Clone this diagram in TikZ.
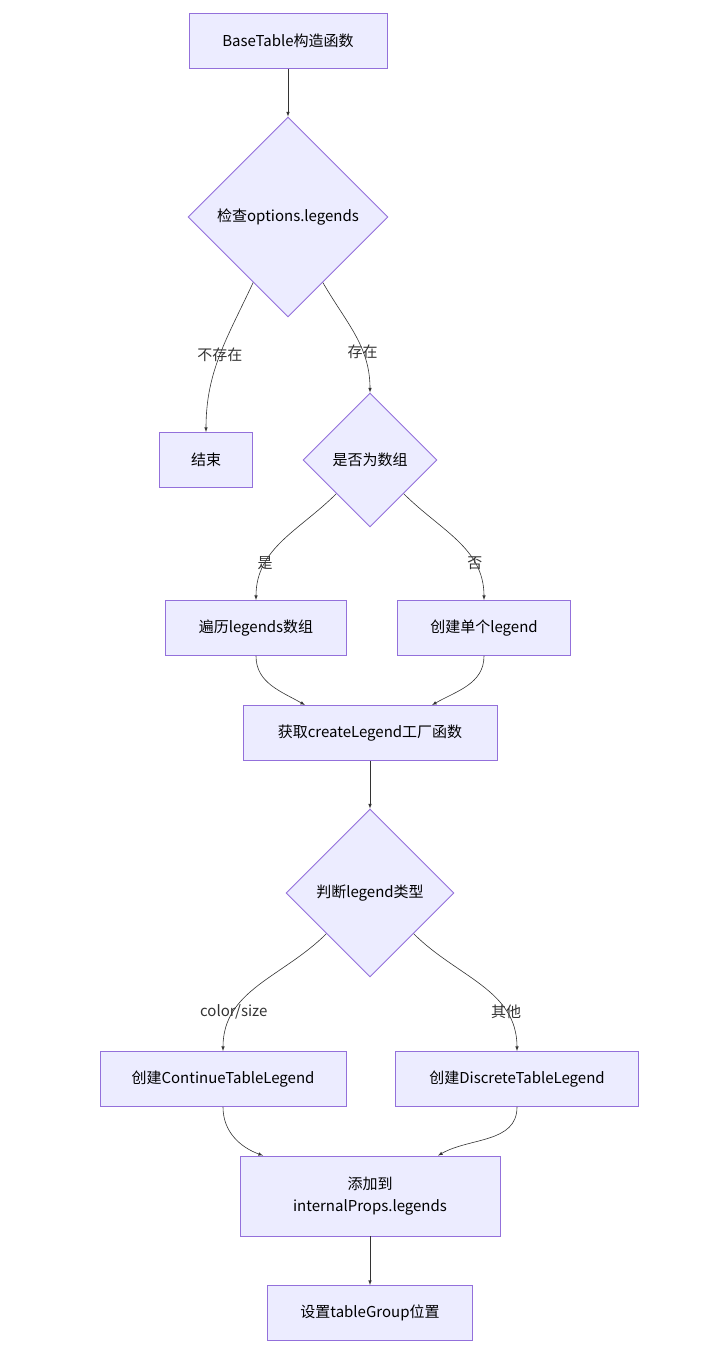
\documentclass[tikz,border=0pt]{standalone}
\usepackage{fontspec}
\setmainfont{Noto Sans CJK SC}
\usetikzlibrary{positioning}
\usetikzlibrary{shapes.geometric}
\usetikzlibrary{arrows}
\definecolor{nodefill}{RGB}{236,236,255}
\definecolor{nodeline}{RGB}{147,112,219}
\definecolor{edgeline}{RGB}{51,51,51}

\begin{document}
\begin{tikzpicture}[>=latex, x=1pt, y=1pt,
    box/.style={draw=nodeline, fill=nodefill, line width=0.9pt, minimum height=55pt, align=center, font=\fontsize{15}{22}\selectfont},
    decision/.style={draw=nodeline, fill=nodefill, line width=0.9pt, diamond, aspect=1, inner sep=0pt, font=\fontsize{15}{18}\selectfont},
    lbl/.style={font=\fontsize{15}{18}\selectfont, text=edgeline},
    flow/.style={->, draw=edgeline, line width=0.6pt}]
    \useasboundingbox (0,0) rectangle (712,-1364);

    % Top part
    \node[box, minimum width=198pt] (ctor) at (288,-41) {BaseTable构造函数};
    \node[decision, minimum size=200pt] (chk) at (288,-217) {检查options.legends};
    \node[box, minimum width=93pt] (stop) at (206,-460) {结束};
    \node[decision, minimum size=134pt] (isarr) at (370,-460) {是否为数组};

    % Middle part
    \node[box, minimum width=181pt] (loop) at (256,-628) {遍历legends数组};
    \node[box, minimum width=173pt] (single) at (484,-628) {创建单个legend};
    \node[box, minimum width=254pt] (factory) at (370,-733) {获取createLegend工厂函数};
    \node[decision, minimum size=168pt] (kind) at (370,-893) {判断legend类型};

    % Bottom part
    \node[box, minimum width=246pt] (cont) at (223,-1079) {创建ContinueTableLegend};
    \node[box, minimum width=243pt] (disc) at (517,-1079) {创建DiscreteTableLegend};
    \node[box, minimum width=260pt, minimum height=80pt] (push) at (370,-1196) {添加到\\internalProps.legends};
    \node[box, minimum width=205pt] (place) at (370,-1313) {设置tableGroup位置};

    \draw[flow] (ctor) -- (chk);
    \draw[flow] (chk.-118) to[out=-115, in=90] node[lbl, pos=0.5] {不存在} (stop.north);
    \draw[flow] (chk.-62) to[out=-60, in=90] node[lbl, pos=0.66] {存在} (isarr.north);
    \draw[flow] (isarr.-135) to[out=-135, in=90] node[lbl, pos=0.72] {是} (loop.north);
    \draw[flow] (isarr.-45) to[out=-45, in=90] node[lbl, pos=0.72] {否} (single.north);
    \draw[flow] (loop.south) to[out=-90, in=150] ([xshift=-65pt]factory.north);
    \draw[flow] (single.south) to[out=-90, in=30] ([xshift=62pt]factory.north);
    \draw[flow] (factory) -- (kind);
    \draw[flow] (kind.-137) to[out=-135, in=90] node[lbl, pos=0.74] {color/size} (cont.north);
    \draw[flow] (kind.-43) to[out=-45, in=90] node[lbl, pos=0.74] {其他} (disc.north);
    \draw[flow] (cont.south) to[out=-90, in=160] ([xshift=-107pt]push.north);
    \draw[flow] (disc.south) to[out=-90, in=30] ([xshift=68pt]push.north);
    \draw[flow] (push) -- (place);
\end{tikzpicture}
\end{document}
